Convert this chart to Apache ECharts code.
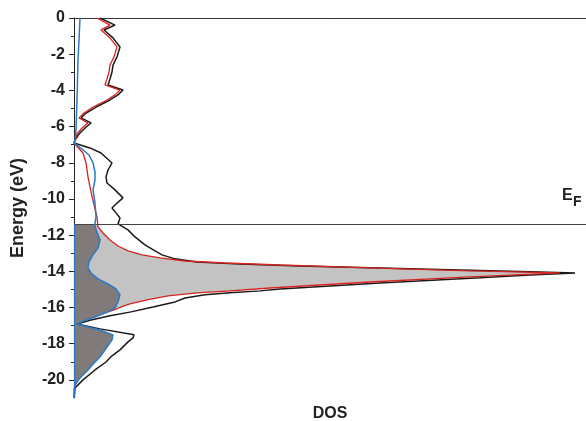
<!DOCTYPE html>
<html><head><meta charset="utf-8">
<script src="https://cdn.jsdelivr.net/npm/echarts@6/dist/echarts.min.js"></script>
<style>html,body{margin:0;padding:0;background:#fff}#c{width:586px;height:421px}</style>
</head><body><div id="c"></div>
<script>
// Fermi level (eV)
const FERMI = -11.4;
// Y-axis tick labels / tick positions
const yMajorTicks = [0,-2,-4,-6,-8,-10,-12,-14,-16,-18,-20];
const yMinorTicks = [-1,-3,-5,-7,-9,-11,-13,-15,-17,-19];

// Total DOS (black)
const totalE = [0,-0.39,-0.66,-1.10,-1.60,-2.15,-2.60,-2.98,-3.37,-3.70,-3.98,-4.25,-4.53,-4.92,-5.30,-5.52,-5.80,-6.08,-6.41,-6.74,-6.91,-7.18,-7.46,-8.01,-8.40,-8.78,-9.12,-9.50,-9.94,-10.28,-10.50,-10.77,-11.05,-11.38,-11.71,-12.10,-12.54,-12.87,-13.09,-13.31,-13.48,-13.59,-13.70,-13.81,-13.92,-14.03,-14.09,-14.20,-14.36,-14.64,-14.97,-15.08,-15.19,-15.30,-15.47,-15.69,-15.97,-16.24,-16.46,-16.69,-16.91,-17.18,-17.51,-17.68,-17.90,-18.34,-18.67,-19.01,-19.45,-20.00,-20.44,-21.0];
const totalDOS = [26,41,30,39,46,43,39,38,36,34,49,44,36,22,11,7,17,11,5,1,0,16,27,38,34,32,33,41,49,42,38,42,46,44,54,61,71,81,88,101,123,166,226,306,386,466,501,456,406,306,206,186,156,131,111,101,79,57,36,17,3,26,60,59,54,46,38,32,21,9,1,0];

// Partial DOS (red)
const redE = [0,-0.39,-0.66,-1.10,-1.60,-2.15,-2.60,-2.98,-3.37,-3.70,-3.98,-4.25,-4.53,-4.92,-5.30,-5.52,-5.80,-6.08,-6.41,-6.74,-6.91,-7.46,-8.01,-8.78,-9.61,-10.33,-10.99,-11.55,-11.88,-12.27,-12.60,-12.87,-13.09,-13.26,-13.43,-13.54,-13.65,-13.81,-13.98,-14.09,-14.31,-14.59,-14.92,-15.08,-15.19,-15.36,-15.58,-15.80,-15.97,-16.13,-16.24];
const redDOS = [23,36,27,36,43,40,36,35,33,31,46,41,33,19,9,5,14,8,3,1,0,9,12,14,17,20,23,24,29,36,44,54,68,86,111,151,206,296,396,486,396,296,196,156,123,94,73,56,47,40,34];

// Partial DOS (blue)
const blueE = [0,-1.22,-2.32,-4.53,-6.19,-6.74,-6.91,-7.24,-7.57,-8.01,-8.51,-8.95,-9.50,-10.22,-10.99,-11.38,-11.71,-12.27,-12.71,-13.09,-13.48,-13.81,-14.09,-14.42,-14.70,-14.97,-15.30,-15.69,-16.02,-16.24,-16.52,-16.74,-16.91,-17.24,-17.51,-17.79,-18.18,-18.73,-19.06,-19.45,-19.89,-20.28,-20.55,-21.0];
const blueDOS = [6,5,4,3,2,1,0,8,15,19,21,21,19,21,22,21,22,26,24,19,15,14,17,24,34,42,46,44,41,34,21,10,3,26,39,38,33,26,20,14,6,1,0,0];

// Minor partial DOS hugging the axis (blue, below E_F)
const blue2E = [-11.4,-21.0];
const blue2DOS = [0.6,0.6];

const pairs = (d, e) => d.map((v, i) => [v, e[i]]);

function buildFill(E, D) {
  const pts = [[0, FERMI]];
  for (let i = 0; i < E.length - 1; i++) {
    if (E[i] >= FERMI && E[i + 1] < FERMI) {
      const t = (E[i] - FERMI) / (E[i] - E[i + 1]);
      pts.push([D[i] + t * (D[i + 1] - D[i]), FERMI]);
    }
    if (E[i + 1] < FERMI) pts.push([D[i + 1], E[i + 1]]);
  }
  pts.push([0, E[E.length - 1]]);
  return pts;
}

const FONT = 'Liberation Sans, Arial, sans-serif';
const chart = echarts.init(document.getElementById('c'), null, {renderer: 'canvas'});

chart.setOption({
  animation: false,
  backgroundColor: '#fff',
  grid: {left: 74, right: 0, top: 18, bottom: 23, containLabel: false, outerBoundsMode: 'none'},
  xAxis: [
    {type: 'value', position: 'bottom', min: 0, max: 512,
     axisLine: {show: true, lineStyle: {color: '#333', width: 1}},
     axisTick: {show: false}, axisLabel: {show: false}, splitLine: {show: false},
     name: 'DOS', nameLocation: 'middle', nameGap: 8,
     nameTextStyle: {fontSize: 16, fontWeight: 'bold', color: '#222', fontFamily: FONT}},
    {type: 'value', position: 'top', min: 0, max: 512,
     axisLine: {show: true, lineStyle: {color: '#333', width: 1}},
     axisTick: {show: false}, axisLabel: {show: false}, splitLine: {show: false}}
  ],
  yAxis: [
    {type: 'value', min: -21, max: 0, position: 'left',
     axisLine: {show: true, lineStyle: {color: '#222', width: 1}},
     axisTick: {show: true, length: 5, customValues: yMajorTicks, lineStyle: {color: '#222'}},
     axisLabel: {customValues: yMajorTicks, fontSize: 16, fontWeight: 'bold', color: '#222', margin: 9, fontFamily: FONT},
     splitLine: {show: false},
     name: 'Energy (eV)', nameLocation: 'middle', nameGap: 47,
     nameTextStyle: {fontSize: 18, fontWeight: 'bold', color: '#222', fontFamily: FONT}},
    {type: 'value', min: -21, max: 0, position: 'left', offset: 0,
     axisLine: {show: false},
     axisTick: {show: true, length: 3, customValues: yMinorTicks, lineStyle: {color: '#222'}},
     axisLabel: {show: false}, splitLine: {show: false}}
  ],
  graphic: [
    {type: 'text', left: 562, top: 188, style: {text: 'E', fontSize: 16, fontWeight: 'bold', fill: '#222', fontFamily: FONT}},
    {type: 'text', left: 573, top: 195, style: {text: 'F', fontSize: 14, fontWeight: 'bold', fill: '#222', fontFamily: FONT}}
  ],
  series: [
    {type: 'custom', name: 'fillRed', silent: true, z: 1, data: [[0, 0]],
     renderItem: (params, api) => ({type: 'polygon',
       shape: {points: buildFill(redE, redDOS).map(p => api.coord(p))},
       style: {fill: '#c3c3c3', stroke: null}})},
    {type: 'custom', name: 'fillBlue', silent: true, z: 1, data: [[0, 0]],
     renderItem: (params, api) => ({type: 'polygon',
       shape: {points: buildFill(blueE, blueDOS).map(p => api.coord(p))},
       style: {fill: '#807b7a', stroke: null}})},
    {type: 'line', name: 'Total', data: pairs(totalDOS, totalE), showSymbol: false, z: 3,
     lineStyle: {color: '#1a1a1a', width: 1.5},
     markLine: {silent: true, symbol: 'none', label: {show: false},
       lineStyle: {color: '#444', width: 1.2, type: 'solid'}, data: [{yAxis: FERMI}]}},
    {type: 'line', name: 'Red', data: pairs(redDOS, redE), showSymbol: false, z: 4,
     lineStyle: {color: '#d8231e', width: 1.3}},
    {type: 'line', name: 'Blue', data: pairs(blueDOS, blueE), showSymbol: false, z: 5,
     lineStyle: {color: '#2a78c8', width: 1.5}},
    {type: 'line', name: 'Blue2', data: pairs(blue2DOS, blue2E), showSymbol: false, z: 5,
     lineStyle: {color: '#2a78c8', width: 1.5}}
  ]
});
</script></body></html>
